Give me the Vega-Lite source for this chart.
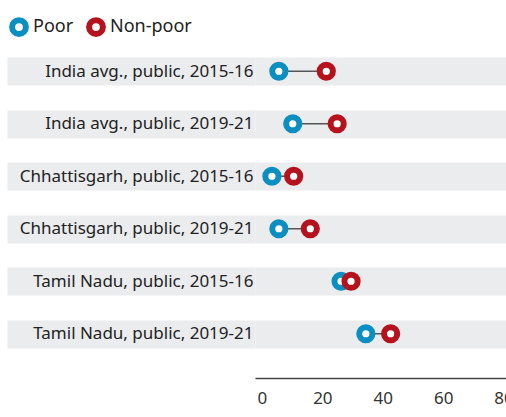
{
  "$schema": "https://vega.github.io/schema/vega-lite/v6.json",
  "width": 251,
  "height": 315,
  "autosize": {"type": "none"},
  "padding": {"left": 255, "top": 45, "right": 0, "bottom": 57},
  "background": "white",
  "config": {"view": {"stroke": null}, "font": "Noto Sans"},
  "data": {
    "values": [
      {"label": "India avg., public,  2015-16", "Poor": 5.6, "Non-poor": 21.3},
      {"label": "India avg., public, 2019-21", "Poor": 10.2, "Non-poor": 24.9},
      {"label": "Chhattisgarh, public, 2015-16", "Poor": 3.3, "Non-poor": 10.5},
      {"label": "Chhattisgarh, public, 2019-21", "Poor": 5.6, "Non-poor": 16.0},
      {"label": "Tamil Nadu, public, 2015-16", "Poor": 26.2, "Non-poor": 29.5},
      {"label": "Tamil Nadu, public, 2019-21", "Poor": 34.4, "Non-poor": 42.6}
    ]
  },
  "encoding": {
    "y": {
      "field": "label",
      "type": "nominal",
      "sort": null,
      "scale": {"type": "point", "padding": 0.5},
      "axis": {
        "title": null,
        "domain": false,
        "ticks": true,
        "tickSize": 248,
        "tickWidth": 28,
        "tickColor": "#ebecee",
        "grid": true,
        "gridWidth": 28,
        "gridColor": "#ebecee",
        "gridOpacity": 1,
        "labelPadding": -246,
        "labelFontSize": 17,
        "labelColor": "#222222",
        "labelLimit": 400
      }
    }
  },
  "layer": [
    {
      "mark": {"type": "rule", "color": "#555555", "strokeWidth": 1.5},
      "encoding": {
        "x": {
          "field": "Poor",
          "type": "quantitative",
          "scale": {"domain": [-2.3, 80.8], "nice": false, "zero": false},
          "axis": {
            "title": null,
            "values": [0, 20, 40, 60, 80],
            "ticks": false,
            "grid": false,
            "domainColor": "#444444",
            "domainWidth": 1.5,
            "labelFontSize": 17,
            "labelColor": "#333333",
            "labelPadding": 12,
            "offset": 18,
            "labelFlush": false,
            "labelOverlap": false,
            "labelBound": false
          }
        },
        "x2": {"field": "Non-poor"}
      }
    },
    {
      "transform": [{"fold": ["Poor", "Non-poor"], "as": ["group", "value"]}],
      "mark": {"type": "point", "shape": "circle", "filled": false, "fill": "white", "strokeWidth": 6, "size": 175, "opacity": 1},
      "encoding": {
        "x": {"field": "value", "type": "quantitative"},
        "color": {
          "field": "group",
          "type": "nominal",
          "scale": {"domain": ["Poor", "Non-poor"], "range": ["#0b8fc0", "#b5121d"]},
          "legend": {
            "title": null,
            "orient": "none",
            "direction": "horizontal",
            "legendX": -246,
            "legendY": -28,
            "symbolType": "circle",
            "symbolSize": 190,
            "symbolStrokeWidth": 6,
            "symbolFillColor": "white",
            "labelFontSize": 18,
            "labelColor": "#222222",
            "labelOffset": 4,
            "columnPadding": 3
          }
        }
      }
    }
  ]
}
